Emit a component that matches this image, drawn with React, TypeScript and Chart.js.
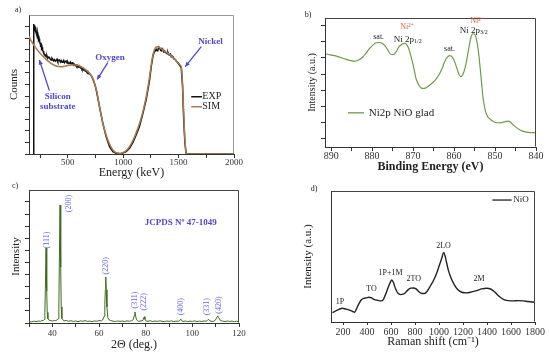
import React, { useEffect, useRef } from "react";
import { Chart, registerables } from "chart.js";
Chart.register(...registerables);

const FONT = '"Liberation Serif", "Times New Roman", serif';

// ---------- Panel a: RBS ----------
const rbsExp: [number, number][] = [
  [193,0],[193,935],[196,910],[199,904],[202,925],[205,898],[208,916],[211,880],[214,873],[217,885],
  [220,860],[223,880],[226,850],[229,845],[232,852],[235,832],[238,822],[241,830],[244,808],[247,812],
  [250,795],[253,801],[256,785],[259,790],[262,770],[265,760],[268,768],[271,752],[274,748],[278,735],
  [281,740],[285,725],[289,719],[297,712],[304,700],[312,706],[319,688],[327,697],[334,695],[342,681],
  [349,676],[357,690],[364,683],[372,670],[380,679],[388,668],[395,671],[403,682],[410,666],[418,675],
  [425,676],[433,662],[440,672],[448,660],[455,664],[463,673],[470,658],[478,667],[485,669],[493,655],
  [500,662],[508,650],[515,652],[523,661],[530,647],[538,655],[545,657],[553,640],[560,646],[568,636],
  [575,640],[583,630],[590,638],[598,626],[605,633],[613,620],[620,625],[628,610],[636,616],[643,605],
  [651,610],[658,596],[666,600],[673,590],[681,593],[688,578],[696,580],[703,570],[711,565],[720,552],
  [741,508],[756,465],[786,341],[816,221],[846,125],[877,53],[907,17],[937,5],[982,2],[1027,17],
  [1057,41],[1087,82],[1117,137],[1148,201],[1178,293],[1208,393],[1238,532],[1253,628],[1268,700],[1276,725],
  [1283,736],[1291,745],[1298,753],[1306,742],[1313,748],[1321,770],[1328,765],[1336,750],[1343,743],[1351,758],
  [1358,748],[1366,735],[1374,742],[1381,730],[1389,729],[1396,722],[1404,730],[1411,714],[1419,712],[1426,718],
  [1434,700],[1441,705],[1449,695],[1456,688],[1464,682],[1471,678],[1479,669],[1486,662],[1494,655],[1501,648],
  [1509,640],[1516,630],[1524,621],[1536,484],[1545,269],[1557,77],[1569,0],[2000,0],
];
const rbsSim: [number, number][] = [
  [150,849],[169,815],[184,796],[214,760],[244,731],[274,705],[304,681],[349,652],[395,633],[440,628],
  [485,633],[530,640],[575,640],[621,628],[666,604],[702,576],[732,532],[762,448],[786,345],[816,225],
  [846,137],[877,72],[907,29],[937,10],[982,5],[1027,24],[1057,53],[1087,96],[1117,153],[1148,221],
  [1178,305],[1208,412],[1238,556],[1262,688],[1283,753],[1304,772],[1328,765],[1358,748],[1404,724],[1449,695],
  [1494,657],[1524,628],[1539,436],[1551,197],[1563,41],[1575,0],[2000,0],
];
const rbsXTicks = [250, 500, 750, 1000, 1250, 1500, 1750, 2000];
const rbsXLabels = [500, 1000, 1500, 2000];
const rbsYTicks = [0, 83.3, 166.7, 250, 333.3, 416.7, 500, 583.3, 666.7, 750, 833.3, 916.7];

// ---------- Panel b: XPS ----------
const xpsNi2p: [number, number][] = [
  [891.2,72.2],[890.2,71.4],[888.9,70.6],[887.7,69.4],[886.5,68.1],[885.3,67.0],[884.3,66.5],[883.3,67.5],
  [882.3,69.6],[881.5,72.7],[880.7,76.1],[879.8,79.0],[879.0,80.8],[878.2,81.0],[877.4,80.0],[876.7,77.9],
  [876.1,74.8],[875.4,71.7],[874.7,71.7],[874.1,74.0],[873.5,77.4],[872.8,79.5],[872.2,80.3],[871.6,79.5],
  [871.1,76.6],[870.5,70.1],[869.8,61.0],[869.3,53.2],[868.6,48.1],[867.8,45.5],[867.0,45.7],[866.2,47.3],
  [865.4,49.4],[864.6,51.9],[863.7,55.8],[862.9,61.0],[862.3,66.0],[861.7,69.4],[861.1,70.9],[860.7,70.6],
  [860.1,68.1],[859.5,62.9],[858.9,57.1],[858.4,54.5],[857.9,55.8],[857.4,60.3],[856.9,67.5],[856.4,76.6],
  [855.9,84.7],[855.4,87.8],[855.0,87.5],[854.5,83.1],[854.0,72.7],[853.5,57.1],[853.0,40.3],[852.5,29.9],
  [852.0,24.7],[851.1,21.3],[849.9,19.0],[848.7,18.7],[847.5,19.7],[846.7,20.0],[845.9,18.2],[845.0,15.6],
  [843.8,13.0],[842.6,11.7],[841.4,11.2],[840.0,11.2],
];
const xpsXTicks = [840, 845, 850, 855, 860, 865, 870, 875, 880, 885, 890];
const xpsXLabels = [840, 850, 860, 870, 880, 890];
const xpsYTicks = [6.5, 19, 31.5, 44, 56.5, 69, 81.5, 94];

// ---------- Panel c: XRD ----------
const xrdPattern: [number, number][] = [
  [30,1.2],[31,0.8],[32,1.4],[33,1.0],[34,1.5],[35,1.3],[35.5,1.9],[36,1.6],[36.5,2.6],[36.8,8],
  [37.0,25],[37.3,56.4],[37.6,24],[37.8,8],[38.1,3.2],[38.6,2.2],[39,1.8],[40,1.5],[41,2.0],[41.5,1.7],
  [42,2.4],[42.5,3.2],[42.8,12],[43.0,45],[43.3,88.7],[43.6,42],[43.8,12],[44.1,3.5],[44.6,2.3],[45,1.6],
  [46,1.9],[47,1.3],[48,1.7],[49,1.2],[50,1.5],[51,1.0],[52,1.6],[53,1.3],[54,1.8],[55,1.2],
  [56,1.4],[57,1.0],[58,1.6],[59,1.3],[60,1.8],[61,1.6],[61.5,2.2],[62.2,5],[62.5,14],[62.7,25],
  [62.9,34.6],[63.1,25],[63.4,12],[63.8,4],[64.3,2.4],[65,1.8],[66,1.4],[67,1.1],[68,1.6],[69,1.2],
  [70,1.5],[71,1.1],[72,1.6],[73,1.3],[74,1.7],[74.7,2.6],[75.1,5.5],[75.4,8.3],[75.7,5.2],[76.1,2.4],
  [76.7,1.5],[77,1.2],[78,1.6],[78.8,1.9],[79.2,4],[79.4,4.7],[79.7,2.8],[80.2,1.5],[81,1.3],[82,1.7],
  [83,1.1],[84,1.5],[85,1.2],[86,1.6],[87,1.3],[88,1.0],[89,1.5],[90,1.2],[91,1.6],[92,1.1],
  [93,1.4],[94,1.3],[94.6,1.8],[95,3.0],[95.4,1.7],[96,1.2],[97,1.5],[98,1.0],[99,1.4],[100,1.2],
  [101,1.6],[102,1.1],[103,1.4],[104,1.2],[105,1.5],[106,1.4],[106.5,2.0],[106.9,2.8],[107.3,2.0],[108,1.3],
  [109,1.2],[109.8,2.0],[110.4,3.8],[110.9,5.3],[111.4,3.8],[112,2.0],[113,1.4],[114,1.1],[115,1.5],[116,1.2],
  [117,1.4],[118,1.0],[119,1.3],[120,1.1],
];
const xrdXTicks = [30, 40, 50, 60, 70, 80, 90, 100, 110, 120];
const xrdXLabels = [40, 60, 80, 100, 120];
const xrdYTicks = [0, 9.1, 18.2, 27.3, 36.4, 45.5, 54.6, 63.7, 72.8, 81.9, 91];
const xrdPeaks: [string, number, number][] = [
  ["(111)", 37.5, 62.4], ["(200)", 47.0, 89.8], ["(220)", 63.1, 43], ["(311)", 75.6, 17.3],
  ["(222)", 79.4, 16], ["(400)", 95.3, 12.3], ["(331)", 106.4, 12.3], ["(420)", 111.4, 13.5],
];

// ---------- Panel d: Raman ----------
const ramanNiO: [number, number][] = [
  [112,7.1],[139,8.4],[167,9.7],[194,10.5],[222,9.9],[250,9.2],[277,8.2],[297,7.4],[313,10.2],[333,14.0],
  [355,17.1],[374,18.1],[394,18.4],[416,18.9],[438,18.4],[457,17.3],[485,16.6],[521,16.1],[537,17.3],[554,20.9],
  [573,25.5],[593,30.1],[607,32.1],[620,30.1],[637,25.5],[656,22.2],[679,20.9],[701,21.2],[720,22.4],[742,24.5],
  [764,25.8],[786,26.0],[809,25.3],[831,23.2],[858,21.7],[880,21.7],[903,23.7],[927,27.3],[955,31.9],[983,37.8],
  [1005,43.9],[1024,49.0],[1038,53.1],[1049,51.0],[1063,45.4],[1080,38.8],[1102,33.2],[1127,28.6],[1154,25.0],[1190,22.7],
  [1232,22.2],[1273,23.0],[1315,24.0],[1356,25.3],[1398,25.8],[1434,25.0],[1467,22.7],[1500,19.6],[1536,17.3],[1577,16.3],
  [1619,16.1],[1660,16.3],[1702,16.1],[1743,15.6],[1799,15.1],
];
const ramanXTicks = [200, 400, 600, 800, 1000, 1200, 1400, 1600, 1800];
const ramanModes: [string, number, number][] = [
  ["1P", 175, 15.3], ["TO", 438, 25.5], ["1P+1M", 596, 37.8], ["2TO", 789, 32.7], ["2LO", 1038, 57.9], ["2M", 1334, 33.2],
];

// ---------- helpers ----------
const pts = (a: [number, number][]) => a.map(([x, y]) => ({ x, y }));

function txt(ctx: CanvasRenderingContext2D, s: string, x: number, y: number, size: number, color: string,
  o: { bold?: boolean; align?: CanvasTextAlign; rot?: boolean } = {}) {
  ctx.save();
  ctx.font = `${o.bold ? "bold " : ""}${size}px ${FONT}`;
  ctx.fillStyle = color;
  ctx.textAlign = o.align || "center";
  ctx.textBaseline = "middle";
  if (o.rot) {
    ctx.translate(x, y);
    ctx.rotate(-Math.PI / 2);
    ctx.fillText(s, 0, 0);
  } else ctx.fillText(s, x, y);
  ctx.restore();
}

function subText(ctx: CanvasRenderingContext2D, base: string, sub: string, cx: number, cy: number, size: number, color: string) {
  ctx.save();
  ctx.fillStyle = color;
  ctx.textBaseline = "middle";
  ctx.textAlign = "left";
  ctx.font = `${size}px ${FONT}`;
  const w1 = ctx.measureText(base).width;
  const ss = Math.round(size * 0.7);
  ctx.font = `${ss}px ${FONT}`;
  const w2 = ctx.measureText(sub).width;
  const x = cx - (w1 + w2) / 2;
  ctx.font = `${size}px ${FONT}`;
  ctx.fillText(base, x, cy);
  ctx.font = `${ss}px ${FONT}`;
  ctx.fillText(sub, x + w1, cy + size * 0.25);
  ctx.restore();
}

function arrow(ctx: CanvasRenderingContext2D, x1: number, y1: number, x2: number, y2: number, color: string) {
  ctx.save();
  ctx.strokeStyle = color;
  ctx.fillStyle = color;
  ctx.lineWidth = 1.3;
  ctx.beginPath();
  ctx.moveTo(x1, y1);
  ctx.lineTo(x2, y2);
  ctx.stroke();
  const a = Math.atan2(y2 - y1, x2 - x1);
  const h = 5;
  ctx.beginPath();
  ctx.moveTo(x2, y2);
  ctx.lineTo(x2 - h * Math.cos(a - 0.45), y2 - h * Math.sin(a - 0.45));
  ctx.lineTo(x2 - h * Math.cos(a + 0.45), y2 - h * Math.sin(a + 0.45));
  ctx.closePath();
  ctx.fill();
  ctx.restore();
}

function seg(ctx: CanvasRenderingContext2D, x1: number, y1: number, x2: number, y2: number, color: string, w: number) {
  ctx.save();
  ctx.strokeStyle = color;
  ctx.lineWidth = w;
  ctx.beginPath();
  ctx.moveTo(x1, y1);
  ctx.lineTo(x2, y2);
  ctx.stroke();
  ctx.restore();
}

function frame(ctx: CanvasRenderingContext2D, a: any, color: string) {
  ctx.save();
  ctx.strokeStyle = color;
  ctx.lineWidth = 1;
  const l = Math.round(a.left) + 0.5, r = Math.round(a.right) - 0.5, t = Math.round(a.top) + 0.5, b = Math.round(a.bottom) - 0.5;
  ctx.beginPath();
  ctx.moveTo(l, t);
  ctx.lineTo(r, t);
  ctx.lineTo(r, b);
  ctx.stroke();
  ctx.restore();
}

function xAxis(min: number, max: number, tickVals: number[], labelVals: number[], size: number, height: number,
  reverse = false, tickLen = 4, pad = 1) {
  return {
    type: "linear" as const, min, max, reverse,
    afterBuildTicks: (s: any) => { s.ticks = tickVals.map((v) => ({ value: v })); },
    afterFit: (s: any) => { s.height = height; },
    grid: { display: true, drawOnChartArea: false, drawTicks: true, tickLength: tickLen, tickColor: "#333", tickWidth: 1 },
    border: { display: true, color: "#333", width: 1 },
    ticks: {
      autoSkip: false, maxRotation: 0, minRotation: 0, padding: pad, color: "#333",
      font: { family: FONT, size },
      callback: (v: any) => (labelVals.includes(v) ? String(v) : ""),
    },
  };
}

function yAxis(min: number, max: number, tickVals: number[], width: number, tickLen = 4) {
  return {
    type: "linear" as const, min, max,
    afterBuildTicks: (s: any) => { s.ticks = tickVals.map((v) => ({ value: v })); },
    afterFit: (s: any) => { s.width = width; },
    grid: { display: tickVals.length > 0, drawOnChartArea: false, drawTicks: true, tickLength: tickLen, tickColor: "#333" },
    border: { display: true, color: "#333", width: 1 },
    ticks: { display: false },
  };
}

function makeConfig(datasets: any[], pad: any, x: any, y: any, draw: (c: any) => void): any {
  return {
    type: "line",
    data: { datasets },
    options: {
      responsive: false,
      animation: false,
      devicePixelRatio: 1,
      layout: { padding: pad },
      plugins: { legend: { display: false }, tooltip: { enabled: false } },
      elements: { point: { radius: 0 } },
      scales: { x, y },
    },
    plugins: [{ id: "overlay", afterDraw: (c: any) => draw(c) }],
  };
}

const BLUE = "#4f46d6";
const LBLUE = "#6666dd";
const ORANGE = "#d0603a";

function drawA(c: any) {
  const ctx = c.ctx;
  const X = (v: number) => c.scales.x.getPixelForValue(v);
  const Y = (v: number) => c.scales.y.getPixelForValue(v);
  const { left, right, top, bottom } = c.chartArea;
  frame(ctx, c.chartArea, "#999");
  txt(ctx, "Energy (keV)", (left + right) / 2, bottom + 19, 12, "#222");
  txt(ctx, "Counts", left - 15, (top + bottom) / 2, 11, "#222", { rot: true });
  txt(ctx, "a)", left - 11, top - 5, 8, "#222");
  txt(ctx, "Oxygen", X(882), Y(695), 9, BLUE, { bold: true });
  arrow(ctx, X(861), Y(657), X(765), Y(537), BLUE);
  txt(ctx, "Nickel", X(1789), Y(808), 9, BLUE, { bold: true });
  arrow(ctx, X(1705), Y(772), X(1560), Y(628), BLUE);
  txt(ctx, "Silicon", X(410), Y(412), 9, BLUE, { bold: true });
  txt(ctx, "substrate", X(410), Y(340), 9, BLUE, { bold: true });
  arrow(ctx, X(334), Y(456), X(244), Y(676), BLUE);
  seg(ctx, X(1614), Y(412), X(1711), Y(412), "#111", 1.5);
  txt(ctx, "EXP", X(1714), Y(412), 10, "#222", { align: "left" });
  seg(ctx, X(1614), Y(340), X(1711), Y(340), "#a87a52", 1.5);
  txt(ctx, "SIM", X(1714), Y(340), 10, "#222", { align: "left" });
}

function drawB(c: any) {
  const ctx = c.ctx;
  const X = (v: number) => c.scales.x.getPixelForValue(v);
  const Y = (v: number) => c.scales.y.getPixelForValue(v);
  const { left, right, top, bottom } = c.chartArea;
  frame(ctx, c.chartArea, "#444");
  txt(ctx, "Binding Energy (eV)", (left + right) / 2, bottom + 20, 12, "#222", { bold: true });
  txt(ctx, "Intensity (a.u.)", left - 13, (top + bottom) / 2, 10, "#222", { rot: true });
  txt(ctx, "b)", left - 17, top - 3, 8, "#222");
  txt(ctx, "sat.", X(878.4), Y(85.7), 8, "#222");
  txt(ctx, "Ni²⁺", X(871.5), Y(93), 8, ORANGE);
  subText(ctx, "Ni 2p", "1/2", X(871.3), Y(83.6), 9, "#222");
  txt(ctx, "sat.", X(861.1), Y(75.8), 8, "#222");
  txt(ctx, "Ni²⁺", X(854.4), Y(97.4), 8, ORANGE);
  subText(ctx, "Ni 2p", "3/2", X(855.2), Y(90.4), 9, "#222");
  seg(ctx, X(885.9), Y(26.5), X(882.0), Y(26.5), "#6e9a48", 1.3);
  txt(ctx, "Ni2p NiO glad", X(880.8), Y(26.5), 11, "#222", { align: "left" });
}

function drawC(c: any) {
  const ctx = c.ctx;
  const X = (v: number) => c.scales.x.getPixelForValue(v);
  const Y = (v: number) => c.scales.y.getPixelForValue(v);
  const { left, right, top, bottom } = c.chartArea;
  frame(ctx, c.chartArea, "#444");
  txt(ctx, "2Θ (deg.)", (left + right) / 2, bottom + 22, 12, "#222");
  txt(ctx, "Intensity", left - 13, (top + bottom) / 2, 11, "#222", { rot: true });
  txt(ctx, "c)", left - 14, top - 4, 8, "#222");
  xrdPeaks.forEach(([s, x, y]) => txt(ctx, s, X(x), Y(y), 8, LBLUE, { rot: true }));
  txt(ctx, "JCPDS Nº 47-1049", X(95), Y(75.4), 9, BLUE, { bold: true });
}

function drawD(c: any) {
  const ctx = c.ctx;
  const X = (v: number) => c.scales.x.getPixelForValue(v);
  const Y = (v: number) => c.scales.y.getPixelForValue(v);
  const { left, right, top, bottom } = c.chartArea;
  frame(ctx, c.chartArea, "#444");
  txt(ctx, "Raman shift (cm⁻¹)", (left + right) / 2, bottom + 20, 12, "#222");
  txt(ctx, "Intensity (a.u.)", left - 23, (top + bottom) / 2, 11, "#222", { rot: true });
  txt(ctx, "d)", left - 17, top - 2, 8, "#222");
  ramanModes.forEach(([s, x, y]) => txt(ctx, s, X(x), Y(y), 8, "#222"));
  seg(ctx, X(1445), Y(93.1), X(1605), Y(93.1), "#222", 1.3);
  txt(ctx, "NiO", X(1619), Y(93.1), 9, "#222", { align: "left" });
}

export default function App() {
  const ra = useRef<HTMLCanvasElement>(null);
  const rb = useRef<HTMLCanvasElement>(null);
  const rc = useRef<HTMLCanvasElement>(null);
  const rd = useRef<HTMLCanvasElement>(null);

  useEffect(() => {
    const charts: Chart[] = [];
    charts.push(new Chart(ra.current!, makeConfig(
      [
        { data: pts(rbsSim), borderColor: "#a87a52", borderWidth: 1.5, tension: 0.3 },
        { data: pts(rbsExp), borderColor: "#111", borderWidth: 1.5, tension: 0 },
      ],
      { left: 24, top: 15, right: 41, bottom: 6 },
      xAxis(150, 2000, rbsXTicks, rbsXLabels, 9, 23, false, 4, -1),
      yAxis(0, 1000, rbsYTicks, 5),
      drawA,
    )));
    charts.push(new Chart(rb.current!, makeConfig(
      [{ data: pts(xpsNi2p), borderColor: "#6e9a48", borderWidth: 1.2, cubicInterpolationMode: "monotone" }],
      { left: 45, top: 18, right: 14, bottom: 16 },
      xAxis(840, 891.5, xpsXTicks, xpsXLabels, 10, 20, true, 4, -1),
      yAxis(0, 100, xpsYTicks, 5),
      drawB,
    )));
    charts.push(new Chart(rc.current!, makeConfig(
      [{ data: pts(xrdPattern), borderColor: "#3d6b1e", borderWidth: 1, tension: 0 }],
      { left: 24, top: 13, right: 36, bottom: 14 },
      xAxis(30, 120, xrdXTicks, xrdXLabels, 9, 18),
      yAxis(0, 100, xrdYTicks, 5),
      drawC,
    )));
    charts.push(new Chart(rd.current!, makeConfig(
      [{ data: pts(ramanNiO), borderColor: "#222", borderWidth: 1.4, cubicInterpolationMode: "monotone" }],
      { left: 56, top: 14, right: 15, bottom: 15 },
      xAxis(100, 1800, ramanXTicks, ramanXTicks, 10, 18, false, 3),
      yAxis(0, 100, [], 0),
      drawD,
    )));
    return () => charts.forEach((ch) => ch.destroy());
  }, []);

  const cs = (l: number, t: number, w: number, h: number): React.CSSProperties => ({
    position: "absolute", left: l, top: t, width: w, height: h,
  });

  return (
    <div style={{ position: "fixed", left: 0, top: 0, width: 550, height: 355, background: "#fff" }}>
      <canvas ref={rc} width={275} height={178} style={cs(0, 177, 275, 178)} />
      <canvas ref={rd} width={275} height={178} style={cs(275, 177, 275, 178)} />
      <canvas ref={ra} width={275} height={183} style={cs(0, 0, 275, 183)} />
      <canvas ref={rb} width={275} height={183} style={cs(275, 0, 275, 183)} />
    </div>
  );
}
